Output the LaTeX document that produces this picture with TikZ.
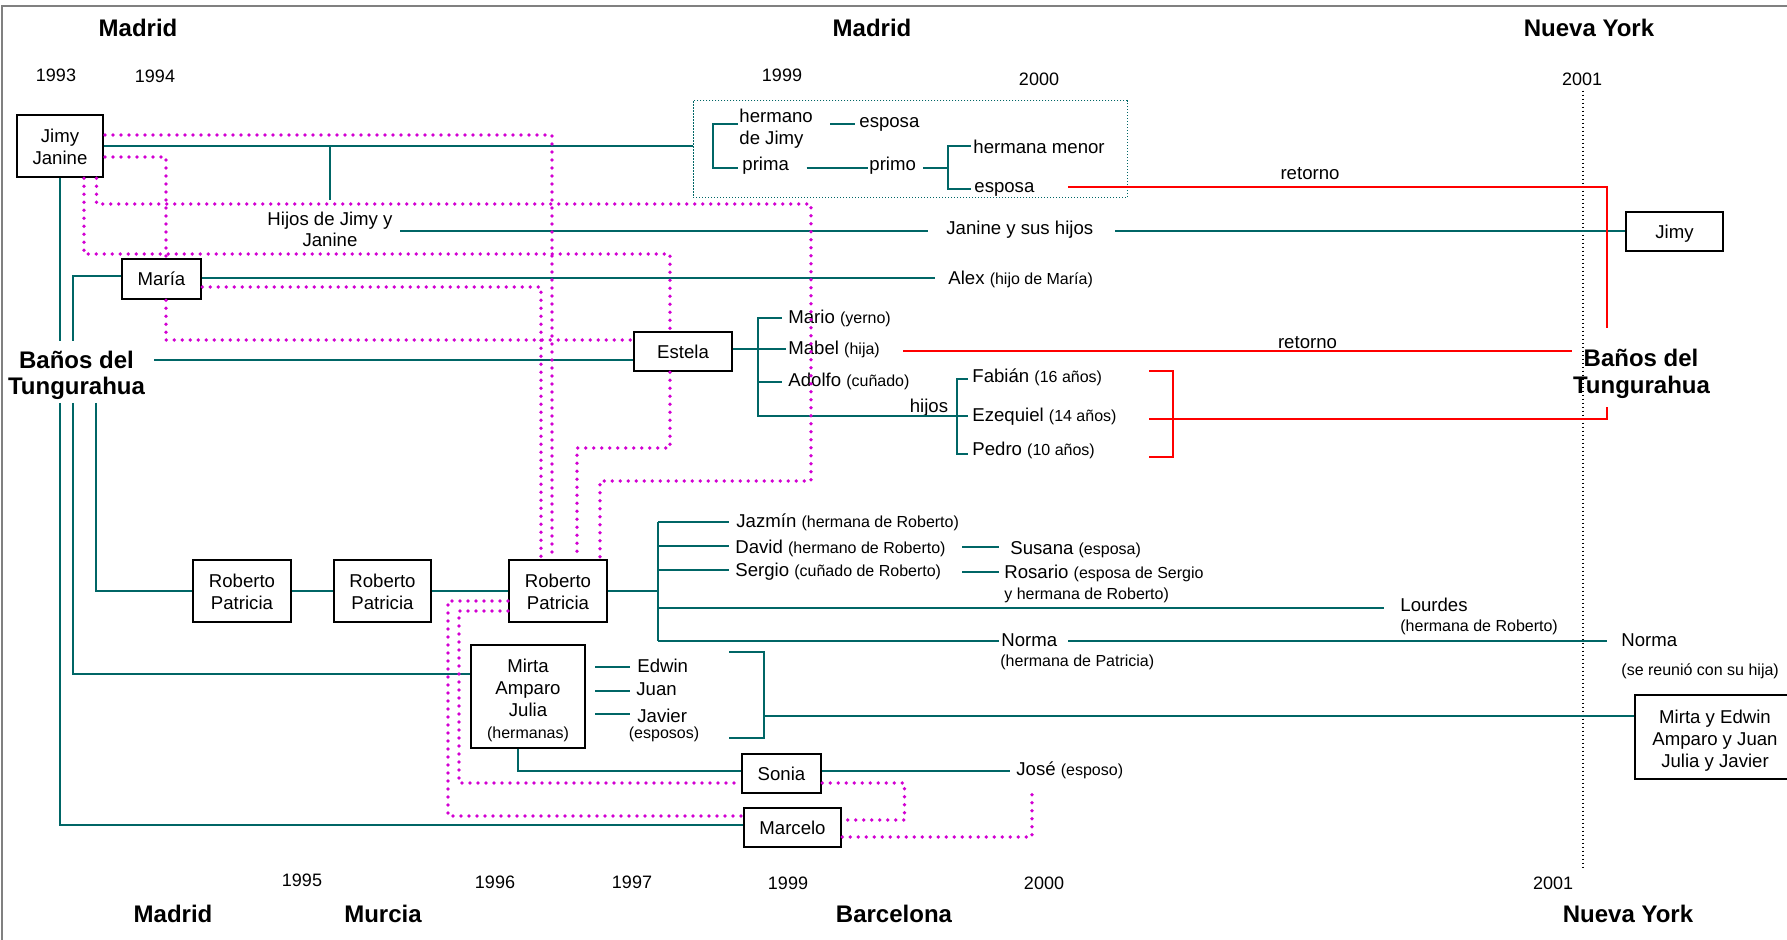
\documentclass[tikz,border=0pt]{standalone}
\usepackage{fontspec}
\setmainfont{Liberation Sans}
\newcommand\fBody{\fontsize{9.3}{11}\selectfont}
\newcommand\fSmall{\fontsize{8}{9.6}\selectfont}
\newcommand\fHead{\fontsize{12}{13.5}\selectfont\bfseries}
\newcommand\fYear{\fontsize{9}{11}\selectfont}
\definecolor{tl}{RGB}{0,102,102}
\definecolor{mg}{RGB}{210,0,210}
\begin{document}
\begin{tikzpicture}[x=0.5pt,y=-0.5pt,
  tline/.style={draw=tl,line width=1pt},
  mdot/.style={draw=mg,line width=1.9pt,line cap=round,dash pattern=on 0pt off 4pt},
  rline/.style={draw=red,line width=1pt},
  pbox/.style={draw=black,line width=1.2pt,align=center,inner sep=0pt,font=\fBody},
  lbl/.style={inner sep=0pt,font=\fBody,anchor=base west},
  clbl/.style={inner sep=0pt,font=\fBody,anchor=base},
  slbl/.style={inner sep=0pt,font=\fSmall,anchor=base west},
  sclbl/.style={inner sep=0pt,font=\fSmall,anchor=base},
  head/.style={inner sep=0pt,font=\fHead,anchor=base},
  yr/.style={inner sep=0pt,font=\fYear,anchor=base}]
\useasboundingbox (0,0) rectangle (1787,940);
\draw[gray,line width=0.8pt] (2,945) -- (2,6) -- (1790,6);

% boxes
\node[pbox,minimum width=43pt,minimum height=31pt] (jj) at (60,146) {\rule{0pt}{7.5pt}Jimy\\Janine};
\node[pbox,minimum width=39.5pt,minimum height=20pt] (maria) at (161.5,279) {María};
\node[pbox,minimum width=49pt,minimum height=19.5pt] (estela) at (683,351.5) {Estela};
\node[pbox,minimum width=49.25pt,minimum height=31pt] (rp1) at (242,591) {\rule{0pt}{7.5pt}Roberto\\Patricia};
\node[pbox,minimum width=48.5pt,minimum height=31pt] (rp2) at (382.5,591) {\rule{0pt}{7.5pt}Roberto\\Patricia};
\node[pbox,minimum width=48.75pt,minimum height=31pt] (rp3) at (558,591) {\rule{0pt}{7.5pt}Roberto\\Patricia};
\node[pbox,minimum width=57pt,minimum height=51.5pt] (mirta) at (528,696.5) {\rule{0pt}{10.5pt}Mirta\\Amparo\\Julia\\{\fSmall (hermanas)}};
\node[pbox,minimum width=39.5pt,minimum height=19.5pt] (sonia) at (781.5,773.5) {Sonia};
\node[pbox,minimum width=48.5pt,minimum height=19.5pt] (marcelo) at (792.5,827.5) {Marcelo};
\node[pbox,minimum width=48.5pt,minimum height=19.5pt] (jimyR) at (1674.5,231.5) {\rule{0pt}{9pt}Jimy};
\node[pbox,minimum width=80pt,minimum height=42pt] (meb) at (1715,737) {\rule{0pt}{10pt}Mirta y Edwin\\Amparo y Juan\\Julia y Javier};
\node[draw=tl,line width=0.5pt,dash pattern=on 0.6pt off 0.9pt,minimum width=217pt,minimum height=48.65pt,inner sep=0pt] (hbox) at (910,149.35) {};

% headings
\node[head] (hM1) at (138,37) {Madrid};
\node[head] (hM2) at (872,37) {Madrid};
\node[head] (hNY1) at (1589,37) {Nueva York};
\node[head] (hM3) at (173,922) {Madrid};
\node[head] (hMu) at (383,922) {Murcia};
\node[head] (hBa) at (894,922) {Barcelona};
\node[head] (hNY2) at (1628,922) {Nueva York};
\node[head] (bL1) at (76.5,369) {Baños del};
\node[head] (bL2) at (76.5,395) {Tungurahua};
\node[head] (bR1) at (1641,367) {Baños del};
\node[head] (bR2) at (1641.5,394) {Tungurahua};

% years
\node[yr] (y93) at (56,82) {1993};
\node[yr] (y94) at (155,83) {1994};
\node[yr] (y99a) at (782,82) {1999};
\node[yr] (y00a) at (1039,86) {2000};
\node[yr] (y01a) at (1582,86) {2001};
\node[yr] (y95) at (302,886) {1995};
\node[yr] (y96) at (495,888) {1996};
\node[yr] (y97) at (632,888) {1997};
\node[yr] (y99b) at (788,889) {1999};
\node[yr] (y00b) at (1044,889) {2000};
\node[yr] (y01b) at (1553,889) {2001};

% labels
\node[lbl] (herm1) at (739,123) {hermano};
\node[lbl] (herm2) at (739,145) {de Jimy};
\node[lbl] (prima) at (742,171) {prima};
\node[lbl] (esp1) at (859,128) {esposa};
\node[lbl] (primo) at (869,171) {primo};
\node[lbl] (hmen) at (973,154) {hermana menor};
\node[lbl] (esp2) at (974,193) {esposa};
\node[clbl] (hij1) at (330,226) {Hijos de Jimy y};
\node[clbl] (hij2) at (330,247) {Janine};
\node[lbl] (jsh) at (946,235) {Janine y sus hijos};
\node[lbl] (alex) at (948,285) {Alex {\fSmall (hijo de María)}};
\node[lbl] (mario) at (788,324) {Mario {\fSmall (yerno)}};
\node[lbl] (mabel) at (788,355) {Mabel {\fSmall (hija)}};
\node[lbl] (adolfo) at (788,387) {Adolfo {\fSmall (cuñado)}};
\node[clbl] (hijos) at (929,413) {hijos};
\node[lbl] (fabian) at (972,383) {Fabián {\fSmall (16 años)}};
\node[lbl] (ezeq) at (972,422) {Ezequiel {\fSmall (14 años)}};
\node[lbl] (pedro) at (972,456) {Pedro {\fSmall (10 años)}};
\node[clbl] (ret1) at (1310,180) {retorno};
\node[clbl] (ret2) at (1307.5,349) {retorno};
\node[lbl] (jazmin) at (736,528) {Jazmín {\fSmall (hermana de Roberto)}};
\node[lbl] (david) at (735,553) {David {\fSmall (hermano de Roberto)}};
\node[lbl] (sergio) at (735,576) {Sergio {\fSmall (cuñado de Roberto)}};
\node[lbl] (susana) at (1010,554) {Susana {\fSmall (esposa)}};
\node[lbl] (rosario) at (1004,578) {Rosario {\fSmall (esposa de Sergio}};
\node[slbl] (rosario2) at (1004,599) {y hermana de Roberto)};
\node[lbl] (lourdes) at (1400,611) {Lourdes};
\node[slbl] (lourdes2) at (1400,631) {(hermana de Roberto)};
\node[lbl] (norma1) at (1001,646) {Norma};
\node[slbl] (norma1b) at (1000,666) {(hermana de Patricia)};
\node[lbl] (norma2) at (1621,646) {Norma};
\node[slbl] (norma2b) at (1621,675.5) {(se reunió con su hija)};
\node[lbl] (edwin) at (637,672) {Edwin};
\node[lbl] (juan) at (636,695.5) {Juan};
\node[lbl] (javier) at (637,722.6) {Javier};
\node[sclbl] (esposos) at (664,738) {(esposos)};
\node[lbl] (jose) at (1016,775) {José {\fSmall (esposo)}};

% 2001 dotted line
\draw[black,line width=0.6pt,dash pattern=on 0.8pt off 1.2pt] (y01a.south -| 1583,0) ++(0,4) -- (1583,868);

% teal connectors
\draw[tline] (jj.east) -- (jj.east -| hbox.west);
\draw[tline] (330,146) -- (330,200);
\draw[tline] (400,231.5) -- (928,231.5);
\draw[tline] (1115,231.5) -- (jimyR.west);
\draw[tline] (maria.east |- 0,278) -- (935,278);
\draw[tline] (maria.west |- 0,276) -| (72.7,341);
\draw[tline] (jj.south) -- (jj.south |- 0,341);
\draw[tline] (60,403) |- (marcelo.west |- 0,824.5);
\draw[tline] (72.7,403) |- (mirta.west |- 0,674);
\draw[tline] (95.7,403) |- (rp1.west);
\draw[tline] (154,360) -- (estela.west |- 0,360);
% hermano / prima group
\draw[tline] (738,124) -- (713,124) -- (713,168) -- (738,168);
\draw[tline] (830,124) -- (854.5,124);
\draw[tline] (806.7,168) -- (868,168);
\draw[tline] (923,168) -- (947.5,168);
\draw[tline] (971,146) -- (947.5,146) -- (947.5,189) -- (971,189);
% Estela group
\draw[tline] (estela.east |- 0,349) -- (786,349);
\draw[tline] (781.7,318) -- (758,318) -- (758,416) -- (968,416);
\draw[tline] (758,382) -- (781.7,382);
\draw[tline] (968,379) -- (957,379) -- (957,454) -- (968,454);
% Roberto chain
\draw[tline] (rp1.east) -- (rp2.west);
\draw[tline] (rp2.east) -- (rp3.west);
\draw[tline] (rp3.east) -- (658,591);
\draw[tline] (658,522) -- (658,641);
\draw[tline] (658,522) -- (729,522);
\draw[tline] (658,546) -- (729,546);
\draw[tline] (658,570) -- (729,570);
\draw[tline] (658,608) -- (1384,608);
\draw[tline] (658,641) -- (999,641);
\draw[tline] (1068,641) -- (1607,641);
\draw[tline] (962,547) -- (999,547);
\draw[tline] (962,571.5) -- (999,571.5);
% Mirta group
\draw[tline] (595,666.7) -- (630,666.7);
\draw[tline] (595,691) -- (630,691);
\draw[tline] (595,714) -- (630,714);
\draw[tline] (729,652) -- (764,652) -- (764,737.5) -- (729,737.5);
\draw[tline] (764,716) -- (meb.west |- 0,716);
\draw[tline] (518,0 |- mirta.south) |- (sonia.west |- 0,771);
\draw[tline] (sonia.east |- 0,771) -- (1010,771);

% red connectors
\draw[rline] (1068,187) -| (1607,328);
\draw[rline] (903,351) -- (1572,351);
\draw[rline] (1149,371) -- (1173,371) -- (1173,457) -- (1149,457);
\draw[rline] (1149,419) -- (1607,419) -- (1607,407);

% magenta dotted paths
\draw[mdot] (105,135) -| (552,0 |- rp3.north);
\draw[mdot] (105,157) -| (166,0 |- maria.north);
\draw[mdot] (166,0 |- maria.south) |- (estela.west |- 0,340);
\draw[mdot] (84,0 |- jj.south) |- (670,254) -- (670,0 |- estela.north);
\draw[mdot] (670,0 |- estela.south) -- (670,448) -| (577,0 |- rp3.north);
\draw[mdot] (96.5,0 |- jj.south) |- (811,204) -- (811,481) -| (600,0 |- rp3.north);
\draw[mdot] (maria.east |- 0,287) -| (541,0 |- rp3.north);
\draw[mdot] (rp3.west |- 0,601) -| (448,816) -- (marcelo.west |- 0,816);
\draw[mdot] (rp3.west |- 0,611) -| (459,783) -- (sonia.west |- 0,783);
\draw[mdot] (sonia.east |- 0,783) -| (904.5,820) -- (marcelo.east |- 0,820);
\draw[mdot] (marcelo.east |- 0,837) -| (1032,788);
\end{tikzpicture}
\end{document}
